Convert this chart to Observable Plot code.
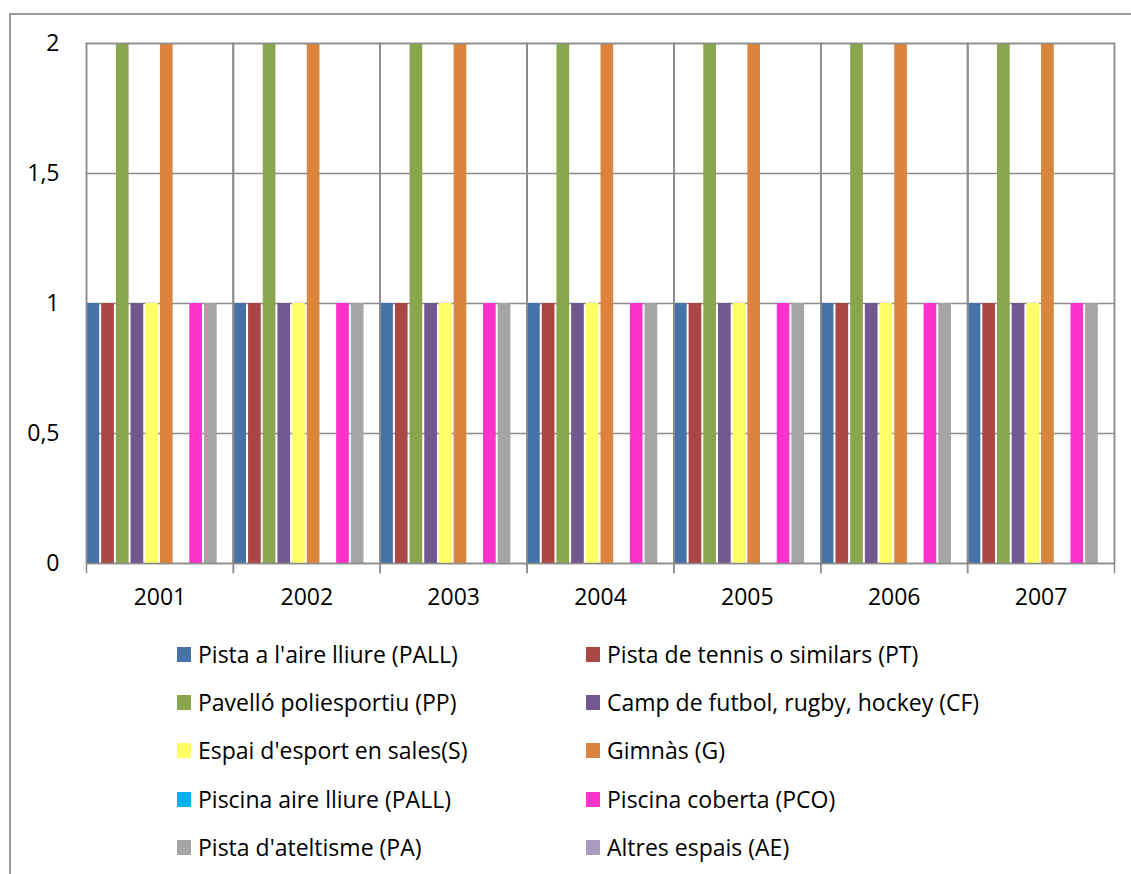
<!DOCTYPE html>
<html>
<head>
<meta charset="utf-8">
<script src="https://cdn.jsdelivr.net/npm/d3@7"></script>
<script src="https://cdn.jsdelivr.net/npm/@observablehq/plot@0.6"></script>
<style>
  html, body { margin: 0; padding: 0; background: #fff; }
  #wrap { position: relative; width: 1131px; height: 874px; overflow: hidden; font-family: "Open Sans", sans-serif; }
  #border { position: absolute; left: 9px; top: 13px; width: 1200px; height: 1000px; border-left: 2px solid #9a9a9a; border-top: 2px solid #9a9a9a; box-sizing: border-box; }
  #chart { position: absolute; left: 0; top: 0; }
  .leg { position: absolute; display: flex; align-items: center; font-size: 23px; color: #000; white-space: nowrap; }
  .sw { width: 14px; height: 15px; margin-right: 7px; flex: none; }
</style>
</head>
<body>
<div id="wrap">
  <div id="border"></div>
  <div id="chart"></div>
  <div id="legend"></div>
</div>
<script>
const years = ["2001", "2002", "2003", "2004", "2005", "2006", "2007"];
const seriesNames = [
  "Pista a l'aire lliure (PALL)",
  "Pista de tennis o similars (PT)",
  "Pavelló poliesportiu (PP)",
  "Camp de futbol, rugby, hockey (CF)",
  "Espai d'esport en sales(S)",
  "Gimnàs (G)",
  "Piscina aire lliure (PALL)",
  "Piscina coberta (PCO)",
  "Pista d'ateltisme (PA)",
  "Altres espais (AE)"
];
const seriesColors = ["#4572A7", "#AA4643", "#89A54E", "#71588F", "#FFFF66", "#DB843D", "#00B0F0", "#FF33CC", "#A5A5A5", "#A99BBD"];

// values per series, one per year (2001..2007)
const valPALL = [1, 1, 1, 1, 1, 1, 1];
const valPT   = [1, 1, 1, 1, 1, 1, 1];
const valPP   = [2, 2, 2, 2, 2, 2, 2];
const valCF   = [1, 1, 1, 1, 1, 1, 1];
const valS    = [1, 1, 1, 1, 1, 1, 1];
const valG    = [2, 2, 2, 2, 2, 2, 2];
const valPAL2 = [0, 0, 0, 0, 0, 0, 0];
const valPCO  = [1, 1, 1, 1, 1, 1, 1];
const valPA   = [1, 1, 1, 1, 1, 1, 1];
const valAE   = [0, 0, 0, 0, 0, 0, 0];

const yTicks = [0, 0.5, 1, 1.5, 2];

const allValues = [valPALL, valPT, valPP, valCF, valS, valG, valPAL2, valPCO, valPA, valAE];
const data = [];
years.forEach((yr, i) => {
  seriesNames.forEach((s, j) => {
    data.push({year: yr, series: s, value: allValues[j][i]});
  });
});

const gridColor = "#8c8c8c";

const chart = Plot.plot({
  width: 1131,
  height: 630,
  marginLeft: 86,
  marginRight: 17,
  marginTop: 43,
  marginBottom: 67,
  style: { fontFamily: "'Open Sans', sans-serif", fontSize: "23px", color: "#000", background: "transparent" },
  fx: { domain: years, padding: 0, round: false, axis: "bottom", tickSize: 0, tickPadding: 25, label: null },
  x: { domain: seriesNames, padding: 0, round: false, axis: null },
  y: { domain: [0, 2], ticks: yTicks, tickFormat: d => String(d).replace(".", ","), tickSize: 0, tickPadding: 27, label: null, grid: false },
  color: { domain: seriesNames, range: seriesColors },
  marks: [
    Plot.gridY(yTicks, { stroke: gridColor, strokeOpacity: 1, strokeWidth: 1.5 }),
    Plot.barY(data, { fx: "year", x: "series", y: "value", fill: "series", insetLeft: 0.5, insetRight: 1.5 }),
    Plot.frame({ stroke: gridColor, strokeWidth: 1.5 }),
    Plot.frame({ anchor: "left", stroke: gridColor, strokeWidth: 1.5, insetBottom: -9 }),
    Plot.frame({ anchor: "right", stroke: gridColor, strokeWidth: 1.5, insetBottom: -9 })
  ]
});
document.getElementById("chart").appendChild(chart);

// legend (2 columns, 5 rows)
const legend = document.getElementById("legend");
const colX = [177, 586];
const rowY = [654, 702, 750, 799, 847];
seriesNames.forEach((s, i) => {
  const d = document.createElement("div");
  d.className = "leg";
  d.style.left = colX[i % 2] + "px";
  d.style.top = (rowY[Math.floor(i / 2)] - 15) + "px";
  d.style.height = "30px";
  const sw = document.createElement("span");
  sw.className = "sw";
  sw.style.background = seriesColors[i];
  const t = document.createElement("span");
  t.textContent = s;
  d.appendChild(sw);
  d.appendChild(t);
  legend.appendChild(d);
});
</script>
</body>
</html>
